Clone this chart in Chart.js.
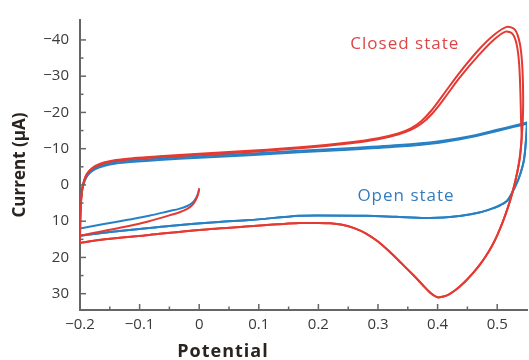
<!DOCTYPE html>
<html>
<head>
<meta charset="utf-8">
<script src="https://cdn.jsdelivr.net/npm/chart.js@4/dist/chart.umd.min.js"></script>
<style>
  html, body { margin: 0; padding: 0; background: #ffffff; }
  #wrap { width: 529px; height: 360px; position: relative; }
</style>
</head>
<body>
<div id="wrap"><canvas id="cv"></canvas></div>
<script>
// Cyclic voltammograms: potential (V) vs current (µA), two cycles per state.
// Axis ticks
const xTicks = [-0.2, -0.1, 0, 0.1, 0.2, 0.3, 0.4, 0.5];
const xMinorTicks = [-0.15, -0.05, 0.05, 0.15, 0.25, 0.35, 0.45];
const yTicks = [-40, -30, -20, -10, 0, 10, 20, 30];
const yMinorTicks = [-35, -25, -15, -5, 5, 15, 25];

// Initial sweep from open-circuit towards -0.2 V
const hookPotential = [0, -0.002, -0.006, -0.012, -0.02, -0.034, -0.05, -0.084, -0.12, -0.16, -0.2];
const closedHookCurrent = [1, 2.6, 4.2, 5.6, 6.6, 7.6, 8.4, 10, 11.4, 12.7, 14];
const openHookCurrent = [1, 2.4, 3.8, 5, 5.8, 6.6, 7.2, 8.5, 9.6, 10.8, 12];

// Closed state: forward (anodic) sweeps, cycle 1 and cycle 2
const closedFwdPotential1 = [-0.2, -0.1995, -0.198, -0.195, -0.19, -0.184, -0.175, -0.16, -0.14, -0.11, -0.067, 0, 0.084, 0.184, 0.25, 0.3, 0.335, 0.355, 0.372, 0.39, 0.41, 0.436, 0.469, 0.494, 0.516, 0.53, 0.538, 0.542, 0.5435, 0.543];
const closedFwdCurrent1 = [14, 9, 4, 0, -2.6, -4, -5.2, -6.2, -6.9, -7.4, -7.9, -8.6, -9.4, -10.6, -11.7, -12.9, -14.3, -15.6, -17.5, -20.6, -25, -30.8, -37.3, -41.3, -43.6, -42.8, -39, -33, -25, -18];
const closedFwdPotential2 = [-0.2, -0.1995, -0.198, -0.195, -0.19, -0.184, -0.175, -0.16, -0.14, -0.11, -0.067, 0, 0.084, 0.184, 0.25, 0.3, 0.335, 0.355, 0.372, 0.39, 0.41, 0.436, 0.469, 0.494, 0.514, 0.526, 0.533, 0.537, 0.539, 0.54];
const closedFwdCurrent2 = [16, 10, 4, 0, -2.4, -3.8, -5, -6, -6.7, -7.2, -7.7, -8.3, -9.1, -10.3, -11.4, -12.6, -14, -15.2, -16.8, -19.5, -23.6, -29.4, -35.8, -40, -42.3, -41.6, -38.5, -33, -25, -18];

// Closed state: reverse (cathodic) sweep with the reduction peak near 0.4 V
const closedRevPotential = [0.541, 0.539, 0.536, 0.531, 0.525, 0.518, 0.51, 0.5, 0.49, 0.48, 0.47, 0.46, 0.45, 0.44, 0.43, 0.42, 0.41, 0.4, 0.393, 0.385, 0.375, 0.36, 0.34, 0.32, 0.3, 0.28, 0.26, 0.24, 0.22, 0.2, 0.168, 0.084, 0, -0.084, -0.168, -0.2];
const closedRevCurrent = [-13, -9, -5.5, -1.5, 2.4, 6.2, 9.9, 13.9, 17.2, 19.9, 22.2, 24.2, 26, 27.6, 29, 30.1, 30.8, 31, 30.4, 29.3, 27.6, 25, 21.7, 18.5, 15.6, 13.4, 11.9, 11, 10.6, 10.5, 10.5, 11.4, 12.4, 13.8, 15.2, 16];

// Open state: forward sweeps, cycle 1 and cycle 2
const openFwdPotential = [-0.2, -0.1995, -0.198, -0.195, -0.19, -0.184, -0.175, -0.16, -0.14, -0.11, -0.067, 0, 0.084, 0.168, 0.25, 0.335, 0.4, 0.45, 0.5, 0.53, 0.55];
const openFwdCurrent1 = [12, 7, 3, 0, -2.3, -3.6, -4.7, -5.6, -6.3, -6.8, -7.3, -7.9, -8.6, -9.4, -10.1, -11, -12, -13.3, -15.2, -16.4, -17.2];
const openFwdCurrent2 = [14, 8, 3.5, 0.4, -1.9, -3.2, -4.3, -5.2, -5.9, -6.4, -6.9, -7.5, -8.2, -9, -9.7, -10.6, -11.6, -13, -14.9, -16.1, -16.9];

// Open state: reverse sweep
const openRevPotential = [0.55, 0.549, 0.545, 0.537, 0.527, 0.517, 0.505, 0.49, 0.47, 0.44, 0.41, 0.38, 0.33, 0.28, 0.2, 0.168, 0.084, 0.033, -0.05, -0.084, -0.15, -0.2];
const openRevCurrent = [-17.2, -14, -7, -2.2, 1.5, 4.3, 5.6, 6.6, 7.6, 8.5, 9, 9.1, 8.8, 8.5, 8.4, 8.5, 9.7, 10.2, 11.3, 11.9, 13, 14];

const RED = 'rgb(228, 58, 50)';
const BLUE = 'rgb(40, 128, 196)';
const AXIS = '#666666';
const FONT = "'Open Sans', 'Noto Sans', sans-serif";

function pts(xs, ys) { return xs.map((x, i) => ({ x: x, y: ys[i] })); }

const closedCycle1 = pts(hookPotential, closedHookCurrent)
  .concat(pts(closedFwdPotential1, closedFwdCurrent1))
  .concat(pts(closedRevPotential, closedRevCurrent));
const closedCycle2 = pts(closedFwdPotential2, closedFwdCurrent2)
  .concat(pts(closedRevPotential, closedRevCurrent));
const openCycle1 = pts(hookPotential, openHookCurrent)
  .concat(pts(openFwdPotential, openFwdCurrent1))
  .concat(pts(openRevPotential, openRevCurrent));
const openCycle2 = pts(openFwdPotential, openFwdCurrent2)
  .concat(pts(openRevPotential, openRevCurrent));

function line(data, color) {
  return { data: data, showLine: true, borderColor: color, backgroundColor: color,
           borderWidth: 2, pointRadius: 0, tension: 0.3, fill: false };
}

function fmt(v) {
  const n = Number(v);
  const s = Math.abs(n).toString();
  return n < 0 ? '\u2212' + s : s;
}

// Inward tick marks, curve labels and the x-axis title
const decorations = {
  id: 'decorations',
  afterDraw(chart) {
    const ctx = chart.ctx, xs = chart.scales.x, ys = chart.scales.y, a = chart.chartArea;
    ctx.save();
    ctx.strokeStyle = AXIS;
    ctx.lineWidth = 1.5;
    const tick = (x1, y1, x2, y2) => { ctx.beginPath(); ctx.moveTo(x1, y1); ctx.lineTo(x2, y2); ctx.stroke(); };
    xTicks.forEach(v => { const p = xs.getPixelForValue(v); tick(p, a.bottom, p, a.bottom - 6); });
    xMinorTicks.forEach(v => { const p = xs.getPixelForValue(v); tick(p, a.bottom, p, a.bottom - 3.5); });
    yTicks.forEach(v => { const p = ys.getPixelForValue(v); tick(a.left, p, a.left + 6, p); });
    yMinorTicks.forEach(v => { const p = ys.getPixelForValue(v); tick(a.left, p, a.left + 3.5, p); });

    ctx.textAlign = 'center';
    ctx.textBaseline = 'middle';
    ctx.letterSpacing = '1px';
    ctx.font = '17px ' + FONT;
    ctx.fillStyle = 'rgb(220, 70, 70)';
    ctx.fillText('Closed state', xs.getPixelForValue(0.345), ys.getPixelForValue(-38.8));
    ctx.fillStyle = 'rgb(52, 124, 190)';
    ctx.fillText('Open state', xs.getPixelForValue(0.347), ys.getPixelForValue(3.1));

    ctx.font = 'bold 18px ' + FONT;
    ctx.fillStyle = '#2a2420';
    ctx.fillText('Potential', a.left + 143, 352);
    ctx.restore();
  }
};

new Chart(document.getElementById('cv'), {
  type: 'scatter',
  data: {
    datasets: [
      line(closedCycle1, RED),
      line(closedCycle2, RED),
      line(openCycle1, BLUE),
      line(openCycle2, BLUE)
    ]
  },
  options: {
    responsive: true,
    maintainAspectRatio: false,
    animation: false,
    layout: { padding: { top: 13, right: 2, bottom: 0, left: 0 } },
    plugins: { legend: { display: false }, tooltip: { enabled: false } },
    scales: {
      x: {
        type: 'linear',
        min: -0.2,
        max: 0.55,
        afterBuildTicks: (s) => { s.ticks = xTicks.map(v => ({ value: v })); },
        afterFit: (s) => { s.height = 50; },
        grid: { display: false, drawTicks: false },
        border: { display: true, color: AXIS, width: 2 },
        ticks: { callback: fmt, color: '#3a3a3a', padding: 6, font: { family: FONT, size: 15 }, maxRotation: 0 }
      },
      y: {
        type: 'linear',
        reverse: true,
        min: -45.5,
        max: 34.5,
        afterBuildTicks: (s) => { s.ticks = yTicks.map(v => ({ value: v })); },
        afterFit: (s) => { s.width = 80; },
        grid: { display: false, drawTicks: false },
        border: { display: true, color: AXIS, width: 2 },
        ticks: { callback: fmt, color: '#3a3a3a', padding: 11, font: { family: FONT, size: 15 } },
        title: { display: true, text: 'Current (\u00b5A)', color: '#2a2420',
                 font: { family: FONT, size: 17, weight: 'bold' }, padding: { top: 10, bottom: 0 } }
      }
    }
  },
  plugins: [decorations]
});
</script>
</body>
</html>
